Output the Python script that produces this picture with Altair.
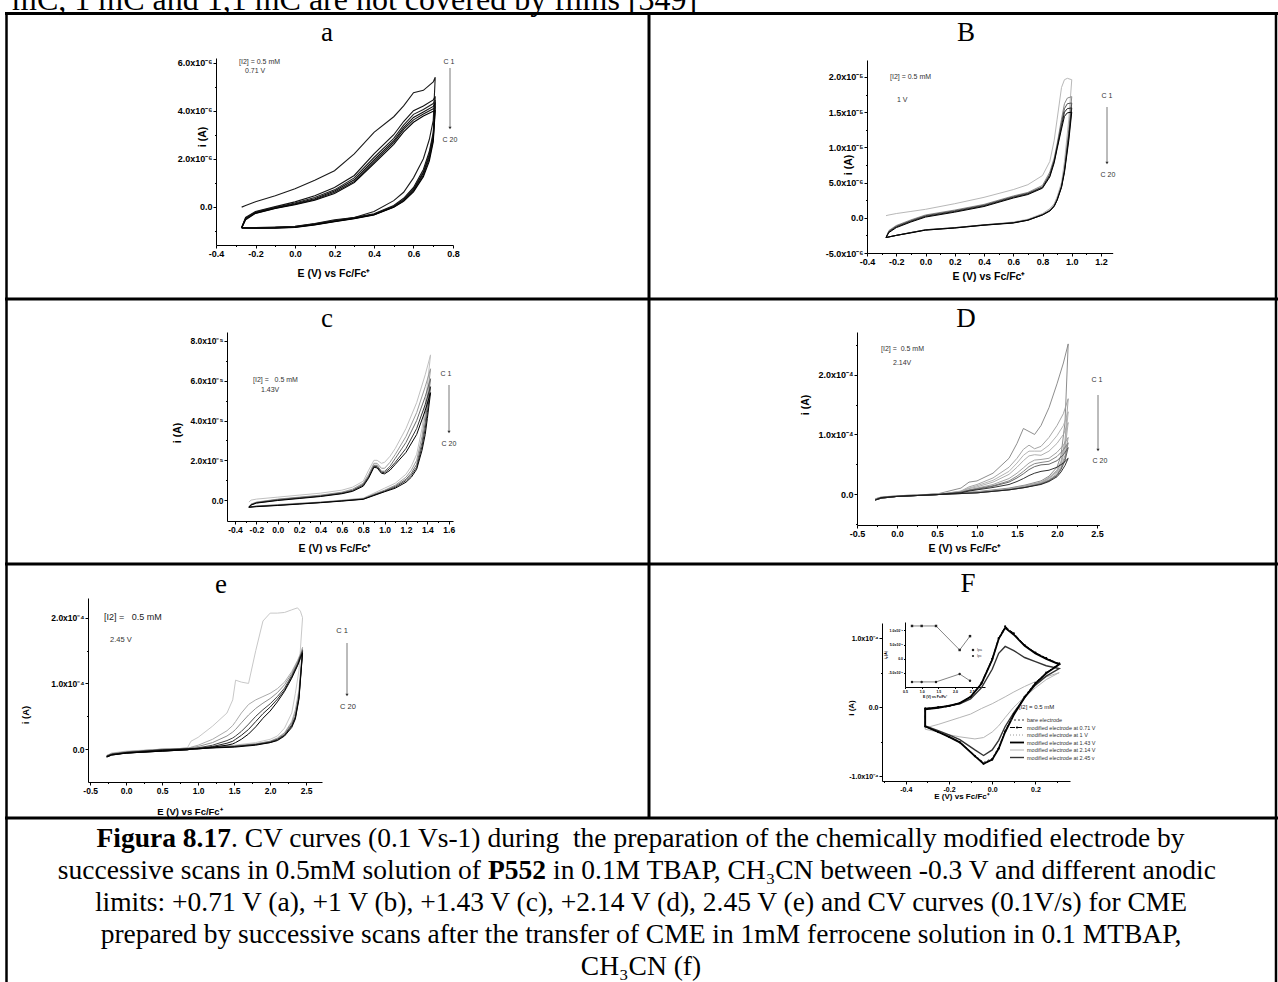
import altair as alt
import pandas as pd

W, H = 1278, 982

# ======================= DATA =======================
# Panel a : E (V vs Fc/Fc+), i in units of 1e-6 A
a_E_fwd = [-0.27, -0.25, -0.2, -0.1, 0.0, 0.1, 0.2, 0.3, 0.4, 0.5, 0.55, 0.6, 0.65, 0.7, 0.71]
a_E_rev = [0.71, 0.7, 0.68, 0.65, 0.6, 0.55, 0.5, 0.4, 0.3, 0.2, 0.1, 0.0, -0.1, -0.2, -0.27]
a_C1_fwd = [-0.02, 0.05, 0.2, 0.45, 0.75, 1.1, 1.5, 2.2, 3.1, 3.75, 4.2, 4.75, 4.85, 5.2, 5.4]
a_C1_rev = [5.4, 3.6, 2.8, 2.0, 1.2, 0.6, 0.25, -0.2, -0.45, -0.55, -0.7, -0.82, -0.85, -0.87, -0.87]
a_C2_fwd = [-0.87, -0.45, -0.2, 0.0, 0.2, 0.45, 0.8, 1.3, 2.2, 3.0, 3.55, 4.0, 4.2, 4.45, 4.6]
a_C2_rev = [4.6, 3.1, 2.3, 1.55, 0.8, 0.35, 0.05, -0.3, -0.45, -0.58, -0.72, -0.83, -0.86, -0.87, -0.87]
a_C5_fwd = [-0.87, -0.48, -0.22, -0.03, 0.15, 0.38, 0.7, 1.2, 2.05, 2.85, 3.4, 3.85, 4.05, 4.3, 4.45]
a_C5_rev = [4.45, 3.0, 2.2, 1.45, 0.75, 0.3, 0.02, -0.32, -0.47, -0.6, -0.73, -0.84, -0.87, -0.88, -0.87]
a_C10_fwd = [-0.87, -0.5, -0.25, -0.05, 0.12, 0.33, 0.65, 1.12, 1.95, 2.75, 3.3, 3.72, 3.95, 4.18, 4.3]
a_C10_rev = [4.3, 2.9, 2.1, 1.4, 0.7, 0.27, 0.0, -0.33, -0.48, -0.61, -0.74, -0.85, -0.88, -0.89, -0.88]
a_C15_fwd = [-0.88, -0.52, -0.27, -0.07, 0.1, 0.3, 0.6, 1.05, 1.88, 2.68, 3.22, 3.62, 3.86, 4.08, 4.15]
a_C15_rev = [4.15, 2.8, 2.0, 1.32, 0.66, 0.24, -0.02, -0.34, -0.49, -0.62, -0.75, -0.86, -0.89, -0.9, -0.89]
a_C20_fwd = [-0.89, -0.55, -0.28, -0.08, 0.08, 0.27, 0.55, 1.0, 1.8, 2.6, 3.12, 3.52, 3.78, 3.98, 4.0]
a_C20_rev = [4.0, 2.7, 1.9, 1.25, 0.62, 0.22, -0.03, -0.35, -0.5, -0.63, -0.76, -0.87, -0.9, -0.9, -0.9]

# Panel B : i in units of 1e-6 A
b_E_fwd = [-0.27, -0.25, -0.2, -0.1, 0.0, 0.2, 0.4, 0.6, 0.7, 0.8, 0.85, 0.88, 0.9, 0.93, 0.95, 0.97, 1.0]
b_E_rev = [1.0, 0.98, 0.95, 0.93, 0.9, 0.88, 0.85, 0.8, 0.7, 0.6, 0.4, 0.2, 0.0, -0.1, -0.2, -0.27]
b_C1_fwd = [0.3, 0.4, 0.6, 0.9, 1.2, 2.0, 2.9, 4.0, 4.7, 6.0, 8.0, 11.0, 14.0, 18.5, 19.6, 19.8, 19.6]
b_C1_rev = [19.6, 14.0, 8.0, 5.0, 3.0, 2.0, 1.3, 0.6, -0.2, -0.6, -1.0, -1.4, -1.7, -2.1, -2.5, -2.8]
b_C2_fwd = [-2.8, -1.8, -1.1, -0.3, 0.4, 1.1, 1.9, 3.1, 3.6, 4.6, 6.5, 8.5, 10.5, 14.0, 16.2, 17.0, 17.2]
b_C2_rev = [17.2, 12.5, 7.0, 4.6, 2.7, 1.8, 1.1, 0.5, -0.3, -0.7, -1.0, -1.4, -1.7, -2.1, -2.5, -2.8]
b_C5_fwd = [-2.8, -1.9, -1.2, -0.4, 0.3, 1.0, 1.8, 3.0, 3.5, 4.4, 6.2, 8.2, 10.2, 13.5, 15.5, 16.2, 16.3]
b_C5_rev = [16.3, 12.0, 6.8, 4.5, 2.6, 1.7, 1.0, 0.45, -0.3, -0.7, -1.0, -1.4, -1.7, -2.1, -2.5, -2.8]
b_C10_fwd = [-2.8, -2.0, -1.3, -0.5, 0.2, 0.9, 1.7, 2.9, 3.4, 4.3, 6.0, 8.0, 10.0, 13.0, 15.0, 15.5, 15.6]
b_C10_rev = [15.6, 11.5, 6.6, 4.4, 2.5, 1.7, 1.0, 0.4, -0.35, -0.7, -1.05, -1.45, -1.75, -2.1, -2.5, -2.8]
b_C20_fwd = [-2.8, -2.1, -1.4, -0.6, 0.1, 0.8, 1.6, 2.8, 3.3, 4.2, 5.8, 7.8, 9.8, 12.6, 14.4, 14.9, 15.0]
b_C20_rev = [15.0, 11.0, 6.4, 4.3, 2.5, 1.6, 0.95, 0.4, -0.35, -0.75, -1.05, -1.45, -1.75, -2.15, -2.5, -2.8]

# Panel c : i in units of 1e-5 A
c_E_fwd = [-0.27, -0.25, -0.2, 0.0, 0.2, 0.4, 0.6, 0.7, 0.8, 0.85, 0.9, 0.93, 0.97, 1.0, 1.05, 1.1, 1.2, 1.3, 1.38, 1.43]
c_E_rev = [1.43, 1.4, 1.38, 1.35, 1.3, 1.25, 1.2, 1.1, 1.0, 0.9, 0.8, 0.6, 0.4, 0.2, 0.0, -0.2, -0.27]
c_C1_fwd = [-0.1, 0.0, 0.05, 0.15, 0.25, 0.35, 0.5, 0.65, 0.95, 1.5, 2.0, 2.0, 1.85, 1.9, 2.2, 2.6, 3.6, 4.9, 6.3, 7.3]
c_C1_rev = [7.3, 5.8, 4.8, 3.6, 2.3, 1.7, 1.3, 0.85, 0.6, 0.35, 0.1, 0.0, -0.1, -0.15, -0.22, -0.3, -0.35]
c_C3_fwd = [-0.35, -0.2, -0.1, 0.05, 0.15, 0.25, 0.4, 0.55, 0.85, 1.3, 1.85, 1.85, 1.6, 1.6, 1.9, 2.3, 3.2, 4.4, 5.7, 6.6]
c_C3_rev = [6.6, 5.2, 4.3, 3.2, 2.0, 1.5, 1.15, 0.75, 0.5, 0.3, 0.08, -0.02, -0.1, -0.17, -0.24, -0.3, -0.35]
c_C7_fwd = [-0.35, -0.22, -0.12, 0.03, 0.13, 0.22, 0.37, 0.5, 0.8, 1.2, 1.75, 1.75, 1.45, 1.45, 1.7, 2.1, 2.9, 4.0, 5.2, 6.1]
c_C7_rev = [6.1, 4.8, 3.9, 2.9, 1.8, 1.35, 1.05, 0.7, 0.47, 0.27, 0.06, -0.03, -0.12, -0.18, -0.25, -0.31, -0.35]
c_C12_fwd = [-0.35, -0.24, -0.14, 0.0, 0.1, 0.2, 0.34, 0.47, 0.75, 1.15, 1.7, 1.68, 1.4, 1.38, 1.6, 1.9, 2.6, 3.6, 4.8, 5.7]
c_C12_rev = [5.7, 4.4, 3.6, 2.7, 1.65, 1.25, 0.98, 0.65, 0.44, 0.25, 0.05, -0.04, -0.12, -0.19, -0.26, -0.32, -0.35]
c_C20_fwd = [-0.36, -0.25, -0.15, -0.02, 0.08, 0.18, 0.32, 0.44, 0.7, 1.1, 1.65, 1.62, 1.35, 1.32, 1.5, 1.8, 2.4, 3.3, 4.5, 5.4]
c_C20_rev = [5.4, 4.1, 3.3, 2.5, 1.55, 1.15, 0.9, 0.6, 0.42, 0.23, 0.04, -0.05, -0.13, -0.2, -0.27, -0.33, -0.36]

# Panel D : i in units of 1e-4 A
d_E_fwd = [-0.27, -0.2, 0.0, 0.5, 0.8, 0.9, 1.0, 1.2, 1.4, 1.5, 1.58, 1.65, 1.72, 1.8, 1.9, 2.0, 2.08, 2.14]
d_E_rev = [2.14, 2.1, 2.05, 2.0, 1.9, 1.8, 1.6, 1.4, 1.0, 0.5, 0.0, -0.2, -0.27]
d_C1_fwd = [-0.08, -0.05, -0.03, 0.0, 0.1, 0.2, 0.22, 0.35, 0.6, 0.85, 1.1, 1.05, 1.0, 1.15, 1.45, 1.85, 2.2, 2.52]
d_C1_rev = [2.52, 1.2, 0.65, 0.45, 0.3, 0.22, 0.15, 0.1, 0.04, 0.0, -0.03, -0.06, -0.08]
d_C2_fwd = [-0.1, -0.06, -0.04, -0.01, 0.05, 0.12, 0.16, 0.27, 0.45, 0.6, 0.75, 0.82, 0.76, 0.8, 0.95, 1.15, 1.35, 1.6]
d_C2_rev = [1.6, 0.9, 0.55, 0.4, 0.28, 0.2, 0.14, 0.09, 0.03, 0.0, -0.04, -0.07, -0.1]
d_C3_fwd = [-0.1, -0.06, -0.04, -0.01, 0.045, 0.1, 0.14, 0.23, 0.38, 0.52, 0.65, 0.72, 0.72, 0.72, 0.82, 0.98, 1.15, 1.38]
d_C3_rev = [1.38, 0.82, 0.52, 0.38, 0.27, 0.19, 0.13, 0.08, 0.03, 0.0, -0.04, -0.07, -0.1]
d_C4_fwd = [-0.1, -0.06, -0.04, -0.01, 0.04, 0.09, 0.12, 0.2, 0.33, 0.45, 0.56, 0.64, 0.66, 0.65, 0.72, 0.85, 1.0, 1.2]
d_C4_rev = [1.2, 0.75, 0.5, 0.37, 0.26, 0.19, 0.13, 0.08, 0.03, 0.0, -0.04, -0.07, -0.1]
d_C7_fwd = [-0.1, -0.06, -0.04, -0.01, 0.03, 0.07, 0.1, 0.16, 0.26, 0.35, 0.44, 0.52, 0.57, 0.58, 0.6, 0.7, 0.82, 0.95]
d_C7_rev = [0.95, 0.65, 0.45, 0.34, 0.24, 0.18, 0.12, 0.08, 0.03, 0.0, -0.04, -0.07, -0.1]
d_C9_fwd = [-0.1, -0.06, -0.04, -0.01, 0.03, 0.065, 0.09, 0.14, 0.22, 0.3, 0.38, 0.46, 0.51, 0.53, 0.55, 0.63, 0.74, 0.86]
d_C9_rev = [0.86, 0.6, 0.43, 0.32, 0.23, 0.17, 0.11, 0.07, 0.02, -0.01, -0.04, -0.07, -0.1]
d_C12_fwd = [-0.1, -0.06, -0.04, -0.01, 0.03, 0.06, 0.08, 0.13, 0.2, 0.27, 0.34, 0.41, 0.46, 0.49, 0.5, 0.56, 0.66, 0.78]
d_C12_rev = [0.78, 0.56, 0.41, 0.31, 0.22, 0.17, 0.11, 0.07, 0.02, -0.01, -0.04, -0.07, -0.1]
d_C20_fwd = [-0.1, -0.06, -0.04, -0.01, 0.02, 0.05, 0.07, 0.11, 0.16, 0.21, 0.26, 0.31, 0.35, 0.38, 0.4, 0.45, 0.52, 0.6]
d_C20_rev = [0.6, 0.48, 0.37, 0.29, 0.21, 0.16, 0.11, 0.07, 0.02, -0.01, -0.04, -0.07, -0.1]

# Panel e : i in units of 1e-4 A
e_E_fwd = [-0.27, -0.2, 0.0, 0.5, 0.85, 0.9, 1.0, 1.2, 1.4, 1.48, 1.52, 1.6, 1.7, 1.8, 1.9, 2.0, 2.1, 2.2, 2.3, 2.38, 2.42, 2.45]
e_E_rev = [2.45, 2.4, 2.35, 2.3, 2.2, 2.1, 2.0, 1.8, 1.5, 1.0, 0.5, 0.0, -0.2, -0.27]
e_C1_fwd = [-0.1, -0.06, -0.04, -0.02, 0.02, 0.12, 0.18, 0.35, 0.55, 0.75, 1.05, 1.02, 1.0, 1.5, 1.95, 2.07, 2.07, 2.08, 2.12, 2.15, 2.1, 2.0]
e_C1_rev = [2.0, 1.2, 0.85, 0.55, 0.32, 0.2, 0.15, 0.1, 0.06, 0.02, 0.0, -0.03, -0.06, -0.1]
e_C2_fwd = [-0.1, -0.07, -0.05, -0.03, 0.0, 0.03, 0.06, 0.15, 0.28, 0.36, 0.42, 0.55, 0.68, 0.75, 0.8, 0.85, 0.92, 1.02, 1.18, 1.35, 1.45, 1.55]
e_C2_rev = [1.55, 0.9, 0.6, 0.42, 0.25, 0.17, 0.12, 0.08, 0.05, 0.02, 0.0, -0.04, -0.07, -0.1]
e_C4_fwd = [-0.1, -0.07, -0.05, -0.03, 0.0, 0.02, 0.04, 0.1, 0.2, 0.26, 0.3, 0.4, 0.52, 0.62, 0.7, 0.77, 0.86, 0.98, 1.15, 1.33, 1.43, 1.52]
e_C4_rev = [1.52, 0.85, 0.55, 0.4, 0.24, 0.16, 0.12, 0.08, 0.05, 0.02, 0.0, -0.04, -0.07, -0.1]
e_C8_fwd = [-0.11, -0.08, -0.06, -0.03, -0.01, 0.0, 0.02, 0.06, 0.13, 0.17, 0.2, 0.27, 0.38, 0.5, 0.6, 0.69, 0.8, 0.93, 1.12, 1.3, 1.42, 1.5]
e_C8_rev = [1.5, 0.8, 0.5, 0.37, 0.22, 0.15, 0.11, 0.07, 0.04, 0.01, -0.01, -0.05, -0.08, -0.11]
e_C14_fwd = [-0.11, -0.08, -0.06, -0.03, -0.01, 0.0, 0.01, 0.04, 0.09, 0.12, 0.15, 0.21, 0.3, 0.42, 0.54, 0.64, 0.76, 0.9, 1.1, 1.28, 1.4, 1.48]
e_C14_rev = [1.48, 0.78, 0.48, 0.35, 0.21, 0.14, 0.1, 0.07, 0.04, 0.01, -0.01, -0.05, -0.08, -0.11]
e_C20_fwd = [-0.12, -0.09, -0.06, -0.03, -0.01, 0.0, 0.0, 0.03, 0.06, 0.08, 0.1, 0.15, 0.23, 0.34, 0.47, 0.58, 0.72, 0.88, 1.08, 1.27, 1.38, 1.46]
e_C20_rev = [1.46, 0.76, 0.46, 0.33, 0.2, 0.13, 0.1, 0.06, 0.03, 0.01, -0.02, -0.06, -0.09, -0.12]

# Panel F : ferrocene CVs, i in units of 1e-4 A
f_E_fwd = [-0.31, -0.25, -0.2, -0.15, -0.1, -0.05, 0.0, 0.03, 0.06, 0.1, 0.15, 0.2, 0.25, 0.31]
f_E_rev = [0.31, 0.25, 0.2, 0.15, 0.1, 0.06, 0.03, 0.0, -0.04, -0.08, -0.15, -0.2, -0.25, -0.31, -0.31]
f_bare_fwd = [-0.03, -0.01, 0.01, 0.05, 0.14, 0.33, 0.68, 0.98, 1.14, 1.06, 0.9, 0.79, 0.71, 0.63]
f_bare_rev = [0.63, 0.5, 0.36, 0.16, -0.09, -0.34, -0.58, -0.74, -0.8, -0.7, -0.5, -0.42, -0.35, -0.27, -0.03]
f_071_fwd = [-0.02, 0.0, 0.02, 0.06, 0.15, 0.35, 0.7, 1.0, 1.17, 1.07, 0.9, 0.79, 0.71, 0.63]
f_071_rev = [0.63, 0.5, 0.35, 0.15, -0.1, -0.35, -0.6, -0.76, -0.82, -0.71, -0.51, -0.43, -0.36, -0.28, -0.02]
f_1_fwd = [-0.02, 0.0, 0.02, 0.06, 0.15, 0.34, 0.69, 0.99, 1.16, 1.06, 0.89, 0.78, 0.7, 0.62]
f_1_rev = [0.62, 0.5, 0.35, 0.15, -0.1, -0.35, -0.59, -0.75, -0.81, -0.7, -0.5, -0.42, -0.35, -0.27, -0.02]
f_143_fwd = [-0.03, -0.01, 0.02, 0.06, 0.15, 0.34, 0.69, 0.99, 1.15, 1.05, 0.89, 0.78, 0.7, 0.62]
f_143_rev = [0.62, 0.49, 0.34, 0.14, -0.11, -0.36, -0.6, -0.76, -0.82, -0.71, -0.51, -0.43, -0.36, -0.28, -0.03]
f_214_fwd = [-0.3, -0.25, -0.2, -0.15, -0.1, -0.02, 0.05, 0.1, 0.15, 0.22, 0.3, 0.37, 0.44, 0.5]
f_214_rev = [0.5, 0.4, 0.28, 0.15, 0.0, -0.15, -0.27, -0.36, -0.44, -0.46, -0.43, -0.4, -0.36, -0.32, -0.3]
f_245_fwd = [-0.02, 0.0, 0.02, 0.05, 0.12, 0.28, 0.55, 0.78, 0.88, 0.82, 0.72, 0.66, 0.6, 0.56]
f_245_rev = [0.56, 0.45, 0.32, 0.14, -0.08, -0.28, -0.48, -0.62, -0.7, -0.62, -0.47, -0.4, -0.34, -0.27, -0.02]
f_legend = ["bare electrode", "modified electrode at 0.71 V", "modified electrode at 1 V",
            "modified electrode at 1.43 V", "modified electrode at 2.14 V", "modified electrode at  2.45 v"]

# F inset: peak currents (1e-4 A) vs anodic limit (V)
inset_E = [0.71, 1.0, 1.43, 2.14, 2.45]
inset_ipa = [1.16, 1.16, 1.16, 0.31, 0.8]
inset_ipc = [-0.82, -0.82, -0.82, -0.54, -0.78]

caption = [
    "successive scans in 0.5mM solution of",
    "in 0.1M TBAP, CH\u2083CN between -0.3 V and different anodic",
    "limits: +0.71 V (a),  +1 V (b), +1.43 V (c), +2.14 V (d), 2.45 V (e) and CV curves (0.1V/s) for CME",
    "prepared by successive scans after the transfer of CME in 1mM ferrocene solution  in 0.1 MTBAP,",
    "CH\u2083CN (f)",
]

# ======================= HELPERS =======================
one = pd.DataFrame({"k": [0]})
TITLE_E = "E (V) vs Fc/Fc\u207a"


def cv_frame(E_fwd, E_rev, cycles):
    rows = []
    for name, fwd, rev in cycles:
        k = 0
        for e, v in zip(E_fwd, fwd):
            rows.append({"E": e, "i": v, "cycle": name, "k": k}); k += 1
        for e, v in zip(E_rev, rev):
            rows.append({"E": e, "i": v, "cycle": name, "k": k}); k += 1
    return pd.DataFrame(rows)


def axis(orient, pos, majors, labels, fs, tick, font="Liberation Sans"):
    off = -pos if orient == "left" else pos - H
    expr = " : ".join(f"datum.value == {float(v)!r} ? '{l}'" for v, l in zip(majors, labels)) + " : ''"
    return alt.Axis(orient=orient, offset=off, values=majors, labelExpr=expr, grid=False, title=None,
                    tickSize=tick, tickColor="black", tickWidth=1, domainColor="black", domainWidth=1,
                    labelFont=font, labelFontSize=fs, labelFontWeight="bold", labelColor="black",
                    labelPadding=1, labelFlush=False, labelOverlap=False, labelBound=False)


def minor_axis(orient, pos, minors, tick):
    off = -pos if orient == "left" else pos - H
    return alt.Axis(orient=orient, offset=off, values=minors, labels=False, domain=False, grid=False,
                    title=None, tickSize=tick, tickColor="black", tickWidth=1)


def scales(g):
    xs = alt.Scale(domain=g["xdom"], range=g["xr"], nice=False, zero=False)
    ys = alt.Scale(domain=g["ydom"], range=g["yr"], nice=False, zero=False)
    return xs, ys


def cv_layers(df, g, names, colors, width=1.0):
    xs, ys = scales(g)
    base = alt.Chart(df)
    main = base.mark_line(strokeWidth=width, clip=False).encode(
        x=alt.X("E:Q", scale=xs, axis=axis("bottom", g["yr"][0], g["xmaj"], g["xlab"], g["fs"], g["tick"])),
        y=alt.Y("i:Q", scale=ys, axis=axis("left", g["xr"][0], g["ymaj"], g["ylab"], g["fs"], g["tick"])),
        color=alt.Color("cycle:N", scale=alt.Scale(domain=names, range=colors), legend=None),
        detail="cycle:N",
        order=alt.Order("k:Q"),
    )
    minor = base.mark_line(strokeOpacity=0).encode(
        x=alt.X("E:Q", scale=xs, axis=minor_axis("bottom", g["yr"][0], g["xmin"], g["tick"] / 2)),
        y=alt.Y("i:Q", scale=ys, axis=minor_axis("left", g["xr"][0], g["ymin"], g["tick"] / 2)),
        detail="cycle:N",
    )
    return [main, minor]


def txt(s, x, y, size, font="Liberation Sans", weight="normal", align="left", baseline="middle",
        color="black", angle=None):
    kw = dict(font=font, fontSize=size, fontWeight=weight, align=align, baseline=baseline, color=color)
    if angle is not None:
        kw["angle"] = angle
    return alt.Chart(one).mark_text(**kw).encode(x=alt.value(x), y=alt.value(y), text=alt.value(s))


def hline(x0, x1, y, w=3, color="black", dash=None):
    kw = dict(strokeWidth=w, color=color)
    if dash:
        kw["strokeDash"] = dash
    return alt.Chart(one).mark_rule(**kw).encode(x=alt.value(x0), x2=alt.value(x1), y=alt.value(y))


def vline(x, y0, y1, w=3, color="black"):
    return alt.Chart(one).mark_rule(strokeWidth=w, color=color).encode(
        x=alt.value(x), y=alt.value(y0), y2=alt.value(y1))


def arrow(x, y0, y1, lab1, lab2, ly1, ly2, lx1, lx2, fs):
    return [
        vline(x, y0, y1, w=0.8, color="#555"),
        alt.Chart(one).mark_point(shape="triangle-down", filled=True, size=10, color="#333", opacity=1)
        .encode(x=alt.value(x), y=alt.value(y1)),
        txt(lab1, lx1, ly1, fs, align="center", color="#333"),
        txt(lab2, lx2, ly2, fs, align="center", color="#333"),
    ]


layers = []

# ======================= TABLE GRID =======================
layers += [
    txt("mC, 1 mC and 1,1 mC are not covered by films [349]", 12, 9.5, 32, font="Liberation Serif",
        baseline="alphabetic"),
    hline(5, 1278, 13.5),
    hline(5, 1278, 299),
    hline(5, 1278, 564),
    hline(5, 1278, 818),
    vline(6.5, 12, 982, w=2.5),
    vline(649, 12, 818, w=3),
    vline(1276, 12, 982, w=2.5),
]

# panel letters
for s, x, y in [("a", 327, 41), ("B", 966, 41), ("c", 327, 327), ("D", 966, 327), ("e", 221, 593),
                ("F", 968, 592)]:
    layers.append(txt(s, x, y, 27, font="Liberation Serif", align="center", baseline="alphabetic"))

# ======================= PANEL a =======================
ga = dict(xdom=[-0.4, 0.8], xr=[216, 453], ydom=[-1.6, 6.2], yr=[245, 58], fs=9, tick=3,
          xmaj=[-0.4, -0.2, 0.0, 0.2, 0.4, 0.6, 0.8], xlab=["-0.4", "-0.2", "0.0", "0.2", "0.4", "0.6", "0.8"],
          xmin=[-0.3, -0.1, 0.1, 0.3, 0.5, 0.7],
          ymaj=[0, 2, 4, 6], ylab=["0.0", "2.0x10\u207b\u2076", "4.0x10\u207b\u2076", "6.0x10\u207b\u2076"],
          ymin=[-1, 1, 3, 5])
a_df = cv_frame(a_E_fwd, a_E_rev, [("C1", a_C1_fwd, a_C1_rev), ("C2", a_C2_fwd, a_C2_rev),
                                   ("C5", a_C5_fwd, a_C5_rev), ("C10", a_C10_fwd, a_C10_rev),
                                   ("C15", a_C15_fwd, a_C15_rev), ("C20", a_C20_fwd, a_C20_rev)])
layers += cv_layers(a_df, ga, ["C1", "C2", "C5", "C10", "C15", "C20"],
                    ["#1a1a1a", "#111111", "#1e1e1e", "#0a0a0a", "#151515", "#000000"], width=1.1)
layers += [
    txt(TITLE_E, 334, 274, 10.5, weight="bold", align="center"),
    txt("i (A)", 203, 137, 10.5, weight="bold", align="center", angle=270),
    txt("[I2] = 0.5 mM", 239, 62, 7, color="#333"),
    txt("0.71 V", 245, 71, 7, color="#333"),
]
layers += arrow(450, 68, 128, "C 1", "C 20", 62, 140, 449, 450, 7)

# ======================= PANEL B =======================
gb = dict(xdom=[-0.4, 1.28], xr=[867, 1112.7], ydom=[-5, 22.4], yr=[253, 60], fs=9, tick=3,
          xmaj=[-0.4, -0.2, 0.0, 0.2, 0.4, 0.6, 0.8, 1.0, 1.2],
          xlab=["-0.4", "-0.2", "0.0", "0.2", "0.4", "0.6", "0.8", "1.0", "1.2"],
          xmin=[-0.3, -0.1, 0.1, 0.3, 0.5, 0.7, 0.9, 1.1],
          ymaj=[-5, 0, 5, 10, 15, 20],
          ylab=["-5.0x10\u207b\u2076", "0.0", "5.0x10\u207b\u2076", "1.0x10\u207b\u2075", "1.5x10\u207b\u2075",
                "2.0x10\u207b\u2075"],
          ymin=[-2.5, 2.5, 7.5, 12.5, 17.5])
b_df = cv_frame(b_E_fwd, b_E_rev, [("C1", b_C1_fwd, b_C1_rev), ("C2", b_C2_fwd, b_C2_rev),
                                   ("C5", b_C5_fwd, b_C5_rev), ("C10", b_C10_fwd, b_C10_rev),
                                   ("C20", b_C20_fwd, b_C20_rev)])
layers += cv_layers(b_df, gb, ["C1", "C2", "C5", "C10", "C20"],
                    ["#b8b8b8", "#8a8a8a", "#555555", "#222222", "#000000"], width=1.0)
layers += [
    txt(TITLE_E, 989, 277, 10.5, weight="bold", align="center"),
    txt("i (A)", 849, 165, 10.5, weight="bold", align="center", angle=270),
    txt("[I2] = 0.5 mM", 890, 77, 7, color="#333"),
    txt("1 V", 897, 100, 7, color="#333"),
]
layers += arrow(1107, 107, 163, "C 1", "C 20", 96, 175, 1107, 1108, 7)

# ======================= PANEL c =======================
gc = dict(xdom=[-0.475, 1.64], xr=[227, 453], ydom=[-1.05, 8.45], yr=[521, 332], fs=8.5, tick=3,
          xmaj=[-0.4, -0.2, 0.0, 0.2, 0.4, 0.6, 0.8, 1.0, 1.2, 1.4, 1.6],
          xlab=["-0.4", "-0.2", "0.0", "0.2", "0.4", "0.6", "0.8", "1.0", "1.2", "1.4", "1.6"],
          xmin=[-0.3, -0.1, 0.1, 0.3, 0.5, 0.7, 0.9, 1.1, 1.3, 1.5],
          ymaj=[0, 2, 4, 6, 8],
          ylab=["0.0", "2.0x10\u207b\u2075", "4.0x10\u207b\u2075", "6.0x10\u207b\u2075", "8.0x10\u207b\u2075"],
          ymin=[1, 3, 5, 7])
c_df = cv_frame(c_E_fwd, c_E_rev, [("C1", c_C1_fwd, c_C1_rev), ("C3", c_C3_fwd, c_C3_rev),
                                   ("C7", c_C7_fwd, c_C7_rev), ("C12", c_C12_fwd, c_C12_rev),
                                   ("C20", c_C20_fwd, c_C20_rev)])
layers += cv_layers(c_df, gc, ["C1", "C3", "C7", "C12", "C20"],
                    ["#c0c0c0", "#9a9a9a", "#6a6a6a", "#333333", "#000000"], width=1.0)
layers += [
    txt(TITLE_E, 335, 549, 10.5, weight="bold", align="center"),
    txt("i (A)", 178, 433, 10.5, weight="bold", align="center", angle=270),
    txt("[I2] =\u00a0\u00a0 0.5 mM", 253, 380, 7, color="#333"),
    txt("1.43V", 261, 390, 7, color="#333"),
]
layers += arrow(449, 385, 432, "C 1", "C 20", 374, 444, 446, 449, 7)

# ======================= PANEL D =======================
gd = dict(xdom=[-0.5, 2.53], xr=[857, 1099.4], ydom=[-0.52, 2.72], yr=[525, 332], fs=9, tick=3,
          xmaj=[-0.5, 0.0, 0.5, 1.0, 1.5, 2.0, 2.5], xlab=["-0.5", "0.0", "0.5", "1.0", "1.5", "2.0", "2.5"],
          xmin=[-0.25, 0.25, 0.75, 1.25, 1.75, 2.25],
          ymaj=[0, 1, 2], ylab=["0.0", "1.0x10\u207b\u2074", "2.0x10\u207b\u2074"],
          ymin=[-0.5, 0.5, 1.5, 2.5])
d_df = cv_frame(d_E_fwd, d_E_rev, [("C1", d_C1_fwd, d_C1_rev), ("C2", d_C2_fwd, d_C2_rev),
                                   ("C3", d_C3_fwd, d_C3_rev), ("C4", d_C4_fwd, d_C4_rev),
                                   ("C7", d_C7_fwd, d_C7_rev), ("C9", d_C9_fwd, d_C9_rev),
                                   ("C12", d_C12_fwd, d_C12_rev), ("C20", d_C20_fwd, d_C20_rev)])
layers += cv_layers(d_df, gd, ["C1", "C2", "C3", "C4", "C7", "C9", "C12", "C20"],
                    ["#808080", "#9c9c9c", "#ababab", "#a5a5a5", "#999999", "#7a7a7a", "#555555", "#1a1a1a"],
                    width=0.9)
layers += [
    txt(TITLE_E, 965, 549, 10.5, weight="bold", align="center"),
    txt("i (A)", 806, 405, 10.5, weight="bold", align="center", angle=270),
    txt("[I2] =\u00a0 0.5 mM", 881, 349, 7, color="#333"),
    txt("2.14V", 893, 363, 7, color="#333"),
]
layers += arrow(1098, 395, 450, "C 1", "C 20", 380, 461, 1097, 1100, 7)

# ======================= PANEL e =======================
ge = dict(xdom=[-0.53, 2.72], xr=[88, 322], ydom=[-0.5, 2.3], yr=[782, 598], fs=8.5, tick=3,
          xmaj=[-0.5, 0.0, 0.5, 1.0, 1.5, 2.0, 2.5], xlab=["-0.5", "0.0", "0.5", "1.0", "1.5", "2.0", "2.5"],
          xmin=[-0.25, 0.25, 0.75, 1.25, 1.75, 2.25],
          ymaj=[0, 1, 2], ylab=["0.0", "1.0x10\u207b\u2074", "2.0x10\u207b\u2074"],
          ymin=[0.5, 1.5])
e_df = cv_frame(e_E_fwd, e_E_rev, [("C1", e_C1_fwd, e_C1_rev), ("C2", e_C2_fwd, e_C2_rev),
                                   ("C4", e_C4_fwd, e_C4_rev), ("C8", e_C8_fwd, e_C8_rev),
                                   ("C14", e_C14_fwd, e_C14_rev), ("C20", e_C20_fwd, e_C20_rev)])
layers += cv_layers(e_df, ge, ["C1", "C2", "C4", "C8", "C14", "C20"],
                    ["#c8c8c8", "#ababab", "#8f8f8f", "#444444", "#222222", "#000000"], width=1.0)
layers += [
    txt(TITLE_E, 190, 812, 9.5, weight="bold", align="center"),
    txt("i (A)", 26, 715, 9.5, weight="bold", align="center", angle=270),
    txt("[I2] =\u00a0\u00a0 0.5 mM", 104, 617, 9, color="#222"),
    txt("2.45 V", 110, 640, 7.5, color="#333"),
]
layers += arrow(347, 643, 695, "C 1", "C 20", 631, 707, 342, 348, 7.5)

# ======================= PANEL F =======================
gf = dict(xdom=[-0.51, 0.36], xr=[882, 1070], ydom=[-1.07, 1.22], yr=[781, 623], fs=7, tick=3,
          xmaj=[-0.4, -0.2, 0.0, 0.2], xlab=["-0.4", "-0.2", "0.0", "0.2"],
          xmin=[-0.5, -0.3, -0.1, 0.1, 0.3],
          ymaj=[-1, 0, 1], ylab=["-1.0x10\u207b\u2074", "0.0", "1.0x10\u207b\u2074"],
          ymin=[-0.5, 0.5])
fxs, fys = scales(gf)
f_styles = [
    # name, fwd, rev, color, dash, width
    ("m214", f_214_fwd, f_214_rev, "#b5b5b5", None, 1.0),
    ("bare", f_bare_fwd, f_bare_rev, "#444444", [2, 2], 1.0),
    ("m1", f_1_fwd, f_1_rev, "#9a9a9a", [1, 2], 1.0),
    ("m245", f_245_fwd, f_245_rev, "#333333", None, 1.4),
    ("m143", f_143_fwd, f_143_rev, "#000000", None, 1.8),
    ("m071", f_071_fwd, f_071_rev, "#000000", [5, 2], 1.0),
]
first = True
for name, fw, rv, col, dash, wd in f_styles:
    df = cv_frame(f_E_fwd, f_E_rev, [(name, fw, rv)])
    kw = dict(color=col, strokeWidth=wd, clip=False)
    if dash:
        kw["strokeDash"] = dash
    if first:
        xax = axis("bottom", gf["yr"][0], gf["xmaj"], gf["xlab"], gf["fs"], gf["tick"])
        yax = axis("left", gf["xr"][0], gf["ymaj"], gf["ylab"], gf["fs"], gf["tick"])
    else:
        xax = None
        yax = None
    layers.append(alt.Chart(df).mark_line(**kw).encode(
        x=alt.X("E:Q", scale=fxs, axis=xax), y=alt.Y("i:Q", scale=fys, axis=yax), order=alt.Order("k:Q")))
    if name == "m071":
        layers.append(alt.Chart(df).mark_point(filled=True, size=5, color="black", opacity=1).encode(
            x=alt.X("E:Q", scale=fxs, axis=None), y=alt.Y("i:Q", scale=fys, axis=None)))
    first = False
layers.append(alt.Chart(cv_frame(f_E_fwd, f_E_rev, [("m", f_1_fwd, f_1_rev)])).mark_line(strokeOpacity=0).encode(
    x=alt.X("E:Q", scale=fxs, axis=minor_axis("bottom", gf["yr"][0], gf["xmin"], 1.5)),
    y=alt.Y("i:Q", scale=fys, axis=minor_axis("left", gf["xr"][0], gf["ymin"], 1.5))))
layers += [
    txt(TITLE_E, 962, 797, 8, weight="bold", align="center"),
    txt("i (A)", 852, 708, 8, weight="bold", align="center", angle=270),
    txt("[I2] = 0.5 mM", 1019, 707, 6, color="#222"),
]
# F legend
leg_y = [720, 727.5, 735, 742.5, 750, 757.5]
leg_style = [("#444444", [2, 2], 1.0), ("#000000", [5, 2], 1.0), ("#9a9a9a", [1, 2], 1.0),
             ("#000000", None, 1.8), ("#b5b5b5", None, 1.0), ("#333333", None, 1.4)]
for lab, yy, (col, dash, wd) in zip(f_legend, leg_y, leg_style):
    layers.append(hline(1010, 1024, yy, w=wd, color=col, dash=dash))
    layers.append(txt(lab, 1027, yy, 5.5, color="#333"))
layers.append(alt.Chart(one).mark_point(filled=True, size=5, color="black", opacity=1).encode(
    x=alt.value(1017), y=alt.value(727.5)))

# F inset
gi = dict(xdom=[0.5, 2.9], xr=[905, 985], ydom=[-1.0, 1.3], yr=[687, 622])
ixs, iys = scales(gi)
inset_df = pd.DataFrame({"E": inset_E + inset_E, "ip": inset_ipa + inset_ipc,
                         "s": ["Ipa"] * len(inset_E) + ["Ipc"] * len(inset_E)})
layers.append(alt.Chart(inset_df).mark_line(color="#333", strokeWidth=0.6).encode(
    x=alt.X("E:Q", scale=ixs, axis=axis("bottom", 687, [0.5, 1.0, 1.5, 2.0, 2.5],
                                          ["0.5", "1.0", "1.5", "2.0", "2.5"], 3.5, 1.5)),
    y=alt.Y("ip:Q", scale=iys, axis=axis("left", 905, [-0.5, 0.0, 0.5, 1.0],
                                           ["-5.0x10\u207b\u2075", "0.0", "5.0x10\u207b\u2075",
                                            "1.0x10\u207b\u2074"], 3.5, 1.5)),
    detail="s:N"))
layers.append(alt.Chart(inset_df).mark_point(filled=True, size=6, opacity=1, color="#222").encode(
    x=alt.X("E:Q", scale=ixs, axis=None), y=alt.Y("ip:Q", scale=iys, axis=None),
    shape=alt.Shape("s:N", scale=alt.Scale(domain=["Ipa", "Ipc"], range=["square", "circle"]), legend=None)))
layers += [
    txt(TITLE_E, 935, 697, 3.5, weight="bold", align="center"),
    txt("i\u209a (A)", 886, 655, 3.5, weight="bold", align="center", angle=270),
    alt.Chart(one).mark_point(filled=True, size=5, shape="square", color="#222", opacity=1).encode(
        x=alt.value(973), y=alt.value(650)),
    alt.Chart(one).mark_point(filled=True, size=5, shape="circle", color="#222", opacity=1).encode(
        x=alt.value(973), y=alt.value(656)),
    txt("Ipa", 977, 650, 3.5, color="#333"),
    txt("Ipc", 977, 656, 3.5, color="#333"),
]

# ======================= CAPTION =======================
SER = "Liberation Serif"
CS = 27.5
layers += [
    txt("Figura 8.17", 231, 847, CS, font=SER, weight="bold", align="right", baseline="alphabetic"),
    txt(". CV curves (0.1 Vs-1) during\u00a0 the preparation of the chemically modified electrode by", 231, 847,
        CS, font=SER, align="left", baseline="alphabetic"),
    txt(caption[0], 481, 879, CS, font=SER, align="right", baseline="alphabetic"),
    txt("P552", 517, 879, CS, font=SER, weight="bold", align="center", baseline="alphabetic"),
    txt(caption[1], 553, 879, CS, font=SER, align="left", baseline="alphabetic"),
    txt(caption[2], 641, 911, CS, font=SER, align="center", baseline="alphabetic"),
    txt(caption[3], 641, 943, CS, font=SER, align="center", baseline="alphabetic"),
    txt(caption[4], 641, 975, CS, font=SER, align="center", baseline="alphabetic"),
]

chart = (
    alt.layer(*layers)
    .resolve_scale(x="independent", y="independent", color="independent", shape="independent")
    .properties(width=W, height=H, padding=0, autosize=alt.AutoSizeParams(type="none", contains="padding"))
    .configure(background="white")
    .configure_view(stroke=None)
)
chart.save("out.html", embed_options={"renderer": "svg", "actions": False})
